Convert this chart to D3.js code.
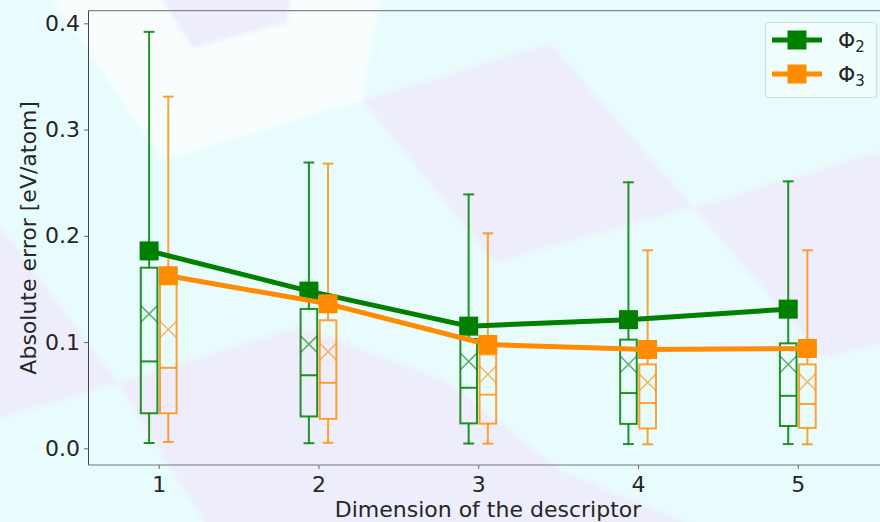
<!DOCTYPE html>
<html>
<head>
<meta charset="utf-8">
<script src="https://cdn.jsdelivr.net/npm/d3@7"></script>
<style>
  html, body { margin: 0; padding: 0; background: #e8fcfd; }
  svg { display: block; }
  text { font-family: "DejaVu Sans", sans-serif; fill: #262626; }
</style>
</head>
<body>
<svg id="chart" width="880" height="522"></svg>
<script>
// Descriptor dimensions on the x axis
const dims = [1, 2, 3, 4, 5];
const xTicks = [1, 2, 3, 4, 5];
const yTicks = [0.0, 0.1, 0.2, 0.3, 0.4];

// Φ2 distribution of absolute errors (eV/atom)
const phi2WhiskerLow  = [0.0050, 0.0048, 0.0045, 0.0040, 0.0040];
const phi2Q1          = [0.0330, 0.0300, 0.0235, 0.0230, 0.0210];
const phi2Median      = [0.0818, 0.0688, 0.0570, 0.0520, 0.0494];
const phi2Mean        = [0.1265, 0.0980, 0.0818, 0.0790, 0.0790];
const phi2Q3          = [0.1700, 0.1312, 0.1030, 0.1023, 0.0988];
const phi2WhiskerHigh = [0.3920, 0.2690, 0.2390, 0.2504, 0.2513];
const phi2Line        = [0.1858, 0.1480, 0.1150, 0.1211, 0.1310];

// Φ3 distribution of absolute errors (eV/atom)
const phi3WhiskerLow  = [0.0060, 0.0052, 0.0044, 0.0038, 0.0038];
const phi3Q1          = [0.0330, 0.0277, 0.0232, 0.0187, 0.0192];
const phi3Median      = [0.0758, 0.0616, 0.0505, 0.0426, 0.0418];
const phi3Mean        = [0.1118, 0.0910, 0.0696, 0.0620, 0.0625];
const phi3Q3          = [0.1580, 0.1205, 0.0884, 0.0790, 0.0790];
const phi3WhiskerHigh = [0.3310, 0.2680, 0.2024, 0.1864, 0.1864];
const phi3Line        = [0.1624, 0.1360, 0.0977, 0.0930, 0.0940];

const seriesColors = ["#007f00", "#ff8c00"];

const series = [
  { label: "Φ", sub: "2", color: seriesColors[0], offset: -0.06,
    low: phi2WhiskerLow, q1: phi2Q1, med: phi2Median, mean: phi2Mean,
    q3: phi2Q3, high: phi2WhiskerHigh, line: phi2Line },
  { label: "Φ", sub: "3", color: seriesColors[1], offset: 0.06,
    low: phi3WhiskerLow, q1: phi3Q1, med: phi3Median, mean: phi3Mean,
    q3: phi3Q3, high: phi3WhiskerHigh, line: phi3Line }
];

const W = 880, H = 522;
const plot = { left: 88, top: 10.7, right: 888, bottom: 465 };

const svg = d3.select("#chart");

// Soft-edged faceted backdrop
svg.append("defs").append("filter").attr("id", "soft")
  .attr("x", "-5%").attr("y", "-5%").attr("width", "110%").attr("height", "110%")
  .append("feGaussianBlur").attr("stdDeviation", 2);

const backdrop = [
  { fill: "#e8fcfd", pts: [[-20,-20],[900,-20],[900,540],[-20,540]] },
  { fill: "#f8fefe", pts: [[40,-20],[383,-20],[362,100],[163,160]] },
  { fill: "#ededfb", pts: [[150,-20],[292,-20],[287,22],[193,48]] },
  { fill: "#ededfb", pts: [[362,100],[550,43],[693,207],[495,263]] },
  { fill: "#ededfb", pts: [[693,207],[900,145],[900,340],[823,358]] },
  { fill: "#ededfb", pts: [[-20,200],[118,383],[-20,425]] },
  { fill: "#ededfb", pts: [[118,383],[300,326],[445,380],[560,470],[730,540],[215,540]] }
];
svg.append("g").attr("filter", "url(#soft)")
  .selectAll("polygon").data(backdrop).join("polygon")
  .attr("points", d => d.pts.map(p => p.join(",")).join(" "))
  .attr("fill", d => d.fill);

const x = d3.scaleLinear().domain([0.5575, 5.5645]).range([plot.left, plot.right]);
const y = d3.scaleLinear().domain([-0.0157, 0.4119]).range([plot.bottom, plot.top]);

// Axes
const yAxis = svg.append("g")
  .attr("transform", `translate(${plot.left},0)`)
  .call(d3.axisLeft(y).tickValues(yTicks).tickFormat(d3.format(".1f")).tickSize(4).tickPadding(4));
const xAxis = svg.append("g")
  .attr("transform", `translate(0,${plot.bottom})`)
  .call(d3.axisBottom(x).tickValues(xTicks).tickFormat(d3.format("d")).tickSize(4).tickPadding(7));
[yAxis, xAxis].forEach(g => {
  g.select(".domain").remove();
  g.selectAll(".tick line").attr("stroke", "#666").attr("stroke-width", 1);
  g.selectAll(".tick text").attr("font-size", 22).attr("fill", "#262626")
    .attr("font-family", "DejaVu Sans, sans-serif");
});

// Spines
svg.append("line").attr("x1", plot.left + 0.5).attr("x2", plot.left + 0.5)
  .attr("y1", plot.top).attr("y2", plot.bottom).attr("stroke", "#444").attr("stroke-width", 1);
svg.append("line").attr("x1", plot.left).attr("x2", W)
  .attr("y1", plot.bottom).attr("y2", plot.bottom).attr("stroke", "#777").attr("stroke-width", 1.2);
svg.append("line").attr("x1", plot.left).attr("x2", W)
  .attr("y1", plot.top).attr("y2", plot.top).attr("stroke", "#888").attr("stroke-width", 1.2);

// Axis titles
svg.append("text")
  .attr("x", (plot.left + plot.right) / 2).attr("y", 517)
  .attr("text-anchor", "middle").attr("font-size", 22)
  .text("Dimension of the descriptor");
svg.append("text")
  .attr("transform", `translate(36,${(plot.top + plot.bottom) / 2}) rotate(-90)`)
  .attr("text-anchor", "middle").attr("font-size", 22)
  .text("Absolute error [eV/atom]");

// Box plots
const boxHalf = 0.052, capHalf = 0.034;
const pxPerUnit = x(1) - x(0);
series.forEach((s, si) => {
  const g = svg.append("g").attr("class", "box-" + si)
    .attr("stroke", s.color).attr("stroke-opacity", si === 0 ? 0.85 : 0.8)
    .attr("fill", "none").attr("stroke-width", 2);
  const rows = dims.map((d, i) => ({
    cx: d + s.offset, low: s.low[i], q1: s.q1[i], med: s.med[i],
    mean: s.mean[i], q3: s.q3[i], high: s.high[i]
  }));
  const b = g.selectAll("g").data(rows).join("g");
  // whiskers
  b.append("line").attr("x1", d => x(d.cx)).attr("x2", d => x(d.cx))
    .attr("y1", d => y(d.q3)).attr("y2", d => y(d.high));
  b.append("line").attr("x1", d => x(d.cx)).attr("x2", d => x(d.cx))
    .attr("y1", d => y(d.q1)).attr("y2", d => y(d.low));
  // caps
  b.append("line").attr("x1", d => x(d.cx - capHalf)).attr("x2", d => x(d.cx + capHalf))
    .attr("y1", d => y(d.high)).attr("y2", d => y(d.high));
  b.append("line").attr("x1", d => x(d.cx - capHalf)).attr("x2", d => x(d.cx + capHalf))
    .attr("y1", d => y(d.low)).attr("y2", d => y(d.low));
  // box
  b.append("rect")
    .attr("x", d => x(d.cx - boxHalf)).attr("width", 2 * boxHalf * pxPerUnit)
    .attr("y", d => y(d.q3)).attr("height", d => y(d.q1) - y(d.q3));
  // median
  b.append("line").attr("x1", d => x(d.cx - boxHalf)).attr("x2", d => x(d.cx + boxHalf))
    .attr("y1", d => y(d.med)).attr("y2", d => y(d.med));
  // mean cross
  const mh = 8.3;
  b.append("path")
    .attr("d", d => {
      const cx = x(d.cx), cy = y(d.mean), hw = boxHalf * pxPerUnit;
      return `M${cx - hw},${cy - mh}L${cx + hw},${cy + mh}M${cx - hw},${cy + mh}L${cx + hw},${cy - mh}`;
    })
    .attr("stroke-width", 1.5).attr("stroke-opacity", 0.6);
});

// Connecting lines and square markers
const sq = 19;
series.forEach(s => {
  const pts = dims.map((d, i) => [d + s.offset, s.line[i]]);
  svg.append("path")
    .attr("d", d3.line().x(p => x(p[0])).y(p => y(p[1]))(pts))
    .attr("fill", "none").attr("stroke", s.color).attr("stroke-width", 5)
    .attr("stroke-linejoin", "round");
  svg.append("g").selectAll("rect").data(pts).join("rect")
    .attr("x", p => x(p[0]) - sq / 2).attr("y", p => y(p[1]) - sq / 2)
    .attr("width", sq).attr("height", sq).attr("fill", s.color);
});

// Legend
const lg = svg.append("g").attr("transform", "translate(765,22)");
lg.append("rect").attr("x", 0.5).attr("y", 0.5).attr("width", 111).attr("height", 75)
  .attr("rx", 3).attr("fill", "#ffffff").attr("fill-opacity", 0.3)
  .attr("stroke", "#d5dede").attr("stroke-width", 1.2);
const items = lg.selectAll("g.item").data(series).join("g")
  .attr("class", "item").attr("transform", (d, i) => `translate(0,${18 + i * 34})`);
items.append("line").attr("x1", 7).attr("x2", 57).attr("y1", 0).attr("y2", 0)
  .attr("stroke", d => d.color).attr("stroke-width", 5);
items.append("rect").attr("x", 32 - sq / 2).attr("y", -sq / 2).attr("width", sq).attr("height", sq)
  .attr("fill", d => d.color);
const lt = items.append("text").attr("x", 73).attr("y", 8).attr("font-size", 22);
lt.append("tspan").text(d => d.label);
lt.append("tspan").attr("font-size", 15).attr("dy", 4).text(d => d.sub);
</script>
</body>
</html>
